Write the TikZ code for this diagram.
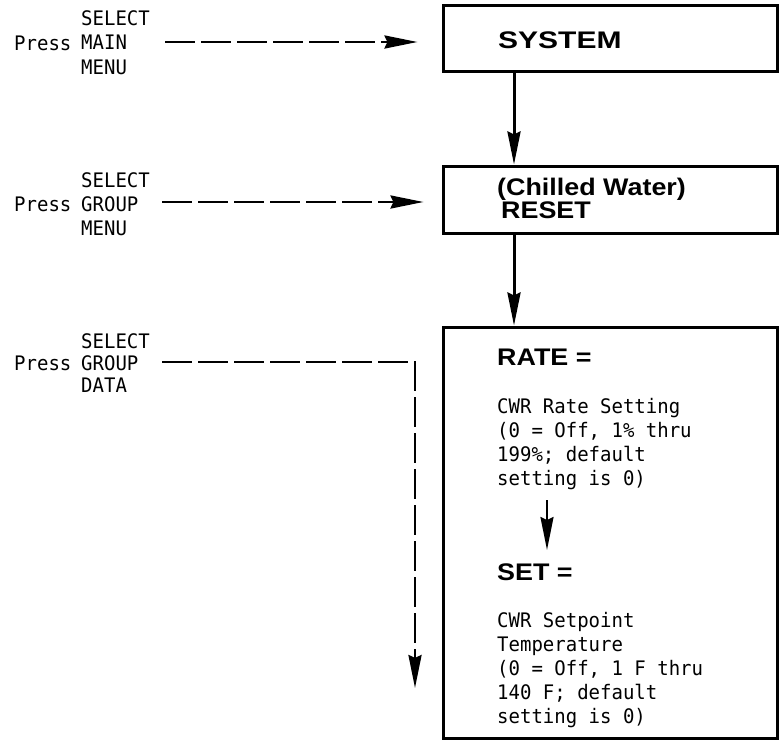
\documentclass[tikz,border=0pt]{standalone}
\usepackage{fontspec}
\usetikzlibrary{arrows.meta}
\newfontfamily\monofam[FakeStretch=0.95]{DejaVu Sans Mono}
\newfontfamily\headfam[FakeStretch=1.12]{Liberation Sans}
\newfontfamily\sysfam[FakeStretch=1.25]{Liberation Sans}
\begin{document}
\begin{tikzpicture}[x=1pt,y=-1pt,
  boxstyle/.style={draw,line width=3pt,rectangle,inner sep=0pt},
  monotext/.style={anchor=base west,inner sep=0pt,font=\monofam\fontsize{20}{24}\selectfont},
  headtext/.style={anchor=base west,inner sep=0pt,font=\headfam\bfseries\fontsize{24}{28}\selectfont},
  bigtip/.style={-{Stealth[length=33pt,width=13pt,inset=3pt]}},
  solidarrow/.style={bigtip,line width=3pt},
  dasharrow/.style={line width=2.8pt,dash pattern=on 30pt off 6pt},
]
\useasboundingbox[fill=white] (0,0) rectangle (780,742);

% boxes
\node[boxstyle,minimum width=334pt,minimum height=66pt] (sys) at (610,38) {};
\node[boxstyle,minimum width=334pt,minimum height=67pt] (rst) at (610,199.5) {};
\node[boxstyle,minimum width=334pt,minimum height=411pt] (grp) at (610,532.5) {};

% box texts
\node[anchor=base west,inner sep=0pt,font=\sysfam\bfseries\fontsize{24}{28}\selectfont] (systxt) at (498,48) {SYSTEM};
\node[headtext] (cw) at (497,195) {(Chilled Water)};
\node[headtext] (rsttxt) at (501,218) {RESET};
\node[headtext] (rate) at (497,365) {RATE =};
\node[monotext] (ratedesc) at (497,413) {\parbox[t]{260pt}{\raggedright\baselineskip=24pt CWR Rate Setting\\(0 = Off, 1\% thru\\199\%; default\\setting is 0)}};
\node[headtext] (set) at (497,580) {SET =};
\node[monotext] (setdesc) at (497,627) {\parbox[t]{260pt}{\raggedright\baselineskip=24pt CWR Setpoint\\Temperature\\(0 = Off, 1 F thru\\140 F; default\\setting is 0)}};

% left labels
\node[monotext] (p1) at (14,50) {Press};
\node[monotext] (l1) at (81,25) {\parbox[t]{80pt}{\raggedright\baselineskip=24.5pt SELECT\\MAIN\\MENU}};
\node[monotext] (p2) at (14,211) {Press};
\node[monotext] (l2) at (81,187) {\parbox[t]{80pt}{\raggedright\baselineskip=24pt SELECT\\GROUP\\MENU}};
\node[monotext] (p3) at (14,370) {Press};
\node[monotext] (l3) at (81,348) {\parbox[t]{80pt}{\raggedright\baselineskip=22pt SELECT\\GROUP\\DATA}};

% coordinates
\coordinate (ax) at (514,0);
\coordinate (s1) at (165,42);
\coordinate (s2) at (162,202);
\coordinate (s3) at (162,362);
\coordinate (c3) at (415,362);
\coordinate (e3) at (415,688);
\coordinate (ia) at (547,500);
\coordinate (ib) at (547,550);

% solid arrows
\draw[solidarrow] (sys.south -| ax) -- (rst.north -| ax);
\draw[solidarrow] (rst.south -| ax) -- (grp.north -| ax);
\draw[bigtip,line width=2pt] (ia) -- (ib);

% dashed arrows
\draw[dasharrow] (s1) -- ([xshift=-50pt]s1 -| sys.west);
\draw[bigtip,line width=2.8pt] ([xshift=-56pt]s1 -| sys.west) -- ([xshift=-24pt]s1 -| sys.west);
\draw[dasharrow] (s2) -- ([xshift=-50pt]s2 -| rst.west);
\draw[bigtip,line width=2.8pt] ([xshift=-52pt]s2 -| rst.west) -- ([xshift=-18pt]s2 -| rst.west);
\draw[dasharrow] (s3) -- (c3) -- ([yshift=30pt]e3);
\draw[bigtip,line width=2.8pt] ([yshift=36pt]e3) -- (e3);
\end{tikzpicture}
\end{document}
